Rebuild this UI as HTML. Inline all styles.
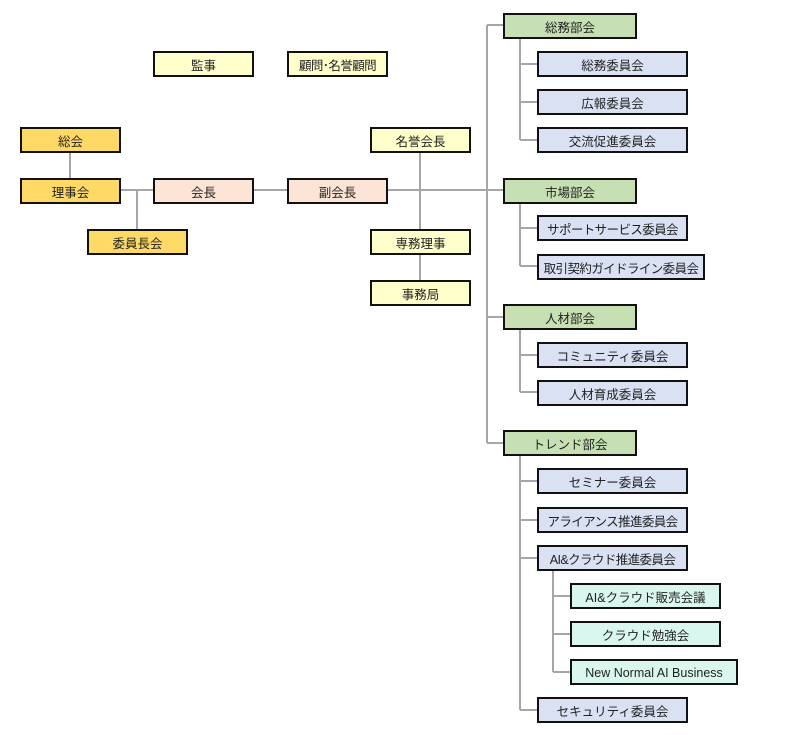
<!DOCTYPE html>
<html><head><meta charset="utf-8"><style>
body{margin:0;width:810px;height:735px;background:#fff;position:relative;overflow:hidden;font-family:"Liberation Sans","Noto Sans CJK JP",sans-serif;}
.b{position:absolute;box-sizing:border-box;border:2px solid #111;font-size:12.5px;display:flex;align-items:center;justify-content:center;color:#222;white-space:nowrap;padding-top:1px}
.t{letter-spacing:-0.6px}
.y{background:#ffffcc}.g{background:#ffd966}.p{background:#fce4d6}.gr{background:#c6e0b4}.l{background:#d9e1f2}.m{background:#d9f7ee}
svg{position:absolute;left:0;top:0}
</style></head><body>
<svg width="810" height="735"><g stroke="#a6a6a6" stroke-width="2" fill="none">
<line x1="70" y1="153" x2="70" y2="178"/>
<line x1="120" y1="190" x2="153" y2="190"/>
<line x1="137" y1="190" x2="137" y2="229"/>
<line x1="254" y1="190" x2="287" y2="190"/>
<line x1="387" y1="190" x2="503" y2="190"/>
<line x1="420" y1="153" x2="420" y2="280"/>
<line x1="487" y1="25" x2="487" y2="443"/>
<line x1="487" y1="25" x2="503" y2="25"/>
<line x1="487" y1="317" x2="503" y2="317"/>
<line x1="487" y1="443" x2="503" y2="443"/>
<line x1="520" y1="38" x2="520" y2="140"/>
<line x1="520" y1="64" x2="537" y2="64"/><line x1="520" y1="102" x2="537" y2="102"/><line x1="520" y1="140" x2="537" y2="140"/>
<line x1="520" y1="203" x2="520" y2="266"/>
<line x1="520" y1="228" x2="537" y2="228"/><line x1="520" y1="266" x2="537" y2="266"/>
<line x1="520" y1="329" x2="520" y2="392"/>
<line x1="520" y1="355" x2="537" y2="355"/><line x1="520" y1="392" x2="537" y2="392"/>
<line x1="520" y1="456" x2="520" y2="710"/>
<line x1="520" y1="481" x2="537" y2="481"/><line x1="520" y1="520" x2="537" y2="520"/><line x1="520" y1="558" x2="537" y2="558"/><line x1="520" y1="710" x2="537" y2="710"/>
<line x1="553" y1="570" x2="553" y2="672"/>
<line x1="553" y1="596" x2="570" y2="596"/><line x1="553" y1="634" x2="570" y2="634"/><line x1="553" y1="672" x2="570" y2="672"/>
</g></svg>
<div class="b y" style="left:153px;top:51px;width:101px;height:26px">監事</div>
<div class="b y t" style="left:287px;top:51px;width:101px;height:26px">顧問･名誉顧問</div>
<div class="b g" style="left:20px;top:127px;width:101px;height:26px">総会</div>
<div class="b g" style="left:20px;top:178px;width:101px;height:26px">理事会</div>
<div class="b g" style="left:87px;top:229px;width:101px;height:26px">委員長会</div>
<div class="b p" style="left:153px;top:178px;width:101px;height:26px">会長</div>
<div class="b p" style="left:287px;top:178px;width:101px;height:26px">副会長</div>
<div class="b y" style="left:370px;top:127px;width:101px;height:26px">名誉会長</div>
<div class="b y" style="left:370px;top:229px;width:101px;height:26px">専務理事</div>
<div class="b y" style="left:370px;top:280px;width:101px;height:26px">事務局</div>
<div class="b gr" style="left:503px;top:13px;width:134px;height:26px">総務部会</div>
<div class="b l" style="left:537px;top:51px;width:151px;height:26px">総務委員会</div>
<div class="b l" style="left:537px;top:89px;width:151px;height:26px">広報委員会</div>
<div class="b l" style="left:537px;top:127px;width:151px;height:26px">交流促進委員会</div>
<div class="b gr" style="left:503px;top:178px;width:134px;height:26px">市場部会</div>
<div class="b l t" style="left:537px;top:215px;width:151px;height:26px">サポートサービス委員会</div>
<div class="b l t" style="left:537px;top:254px;width:168px;height:26px">取引契約ガイドライン委員会</div>
<div class="b gr" style="left:503px;top:304px;width:134px;height:26px">人材部会</div>
<div class="b l" style="left:537px;top:342px;width:151px;height:26px">コミュニティ委員会</div>
<div class="b l" style="left:537px;top:380px;width:151px;height:26px">人材育成委員会</div>
<div class="b gr" style="left:503px;top:430px;width:134px;height:26px">トレンド部会</div>
<div class="b l" style="left:537px;top:468px;width:151px;height:26px">セミナー委員会</div>
<div class="b l t" style="left:537px;top:507px;width:151px;height:26px">アライアンス推進委員会</div>
<div class="b l t" style="left:537px;top:545px;width:151px;height:26px">AI&amp;クラウド推進委員会</div>
<div class="b m" style="left:570px;top:583px;width:151px;height:26px">AI&amp;クラウド販売会議</div>
<div class="b m" style="left:570px;top:621px;width:151px;height:26px">クラウド勉強会</div>
<div class="b m" style="left:570px;top:659px;width:168px;height:26px">New Normal AI Business</div>
<div class="b l" style="left:537px;top:697px;width:151px;height:26px">セキュリティ委員会</div>
</body></html>
